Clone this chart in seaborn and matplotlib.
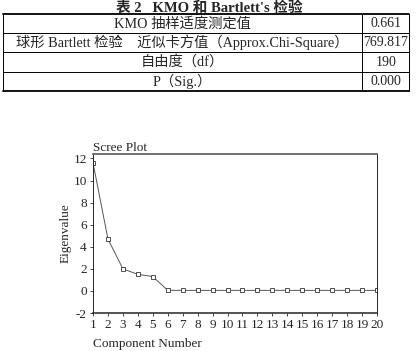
import numpy as np
import pandas as pd
import matplotlib
matplotlib.use('Agg')
import matplotlib.pyplot as plt
import seaborn as sns

# 表 2 的内容
table_title = "表 2   KMO 和 Bartlett's 检验"
row_labels = ["KMO 抽样适度测定值",
              "球形 Bartlett 检验    近似卡方值（Approx.Chi-Square）",
              "自由度（df）",
              "P（Sig.）"]
row_values = ["0.661", "769.817", "190", "0.000"]

# 碎石图数据
components = list(range(1, 21))
eigenvalues = [11.6, 4.7, 2.0, 1.5, 1.3, 0.05, 0.05, 0.05, 0.05, 0.05,
               0.05, 0.05, 0.05, 0.05, 0.05, 0.05, 0.05, 0.05, 0.05, 0.05]
y_ticks = [-2, 0, 2, 4, 6, 8, 10, 12]

sns.set_style('ticks')
plt.rcParams['font.family'] = ['Liberation Serif', 'Noto Sans CJK SC']
plt.rcParams['axes.unicode_minus'] = False

W, H = 418, 351
fig = plt.figure(figsize=(W / 100, H / 100), dpi=100)

# 表格（像素坐标）
ax_t = fig.add_axes([0, 0, 1, 1])
ax_t.set_xlim(0, W)
ax_t.set_ylim(H, 0)
ax_t.axis('off')

tx0, tx1, tsplit = 3, 409, 362
row_edges = [14, 33, 52, 72, 91]
ax_t.text(W / 2, 7.5, table_title, ha='center', va='center',
          fontsize=10.5, fontweight='bold')
for i, y in enumerate(row_edges):
    lw = 1.3 if i in (0, len(row_edges) - 1) else 0.7
    ax_t.plot([tx0, tx1], [y, y], color='black', lw=lw)
for x in (tx0, tsplit, tx1):
    ax_t.plot([x, x], [row_edges[0], row_edges[-1]], color='black', lw=0.7)
for i, (lab, val) in enumerate(zip(row_labels, row_values)):
    yc = (row_edges[i] + row_edges[i + 1]) / 2
    ax_t.text((tx0 + tsplit) / 2, yc, lab, ha='center', va='center', fontsize=10.3)
    ax_t.text((tsplit + tx1) / 2 + 0.5, yc, val, ha='center', va='center', fontsize=10)

# 碎石图
ax = fig.add_axes([93 / W, 1 - 313 / H, 284 / W, 159 / H])
df = pd.DataFrame({'Component Number': components, 'Eigenvalue': eigenvalues})
sns.lineplot(data=df, x='Component Number', y='Eigenvalue', ax=ax,
             color='#555555', linewidth=0.7, marker='s', markersize=3.5,
             markerfacecolor='white', markeredgecolor='#333333',
             markeredgewidth=0.6)
ax.set_xlim(1, 20)
ax.set_ylim(-2, 12.4)
ax.set_xticks(components)
ax.set_yticks(y_ticks)
ax.tick_params(labelsize=9.5, length=2.5, width=0.6, pad=2, direction='out')
for s in ax.spines.values():
    s.set_visible(True)
    s.set_linewidth(0.7)
ax.spines['top'].set_linewidth(1.3)
ax.spines['top'].set_color('#666666')
ax.spines['bottom'].set_linewidth(1.1)
ax.set_xlabel('Component Number', fontsize=9.5, loc='left', labelpad=5)
ax.set_ylabel('Eigenvalue', fontsize=9.5, labelpad=1)
ax.text(0, 1.0, 'Scree Plot', transform=ax.transAxes, ha='left', va='bottom',
        fontsize=9.5)

fig.savefig('out.png', dpi=100)
